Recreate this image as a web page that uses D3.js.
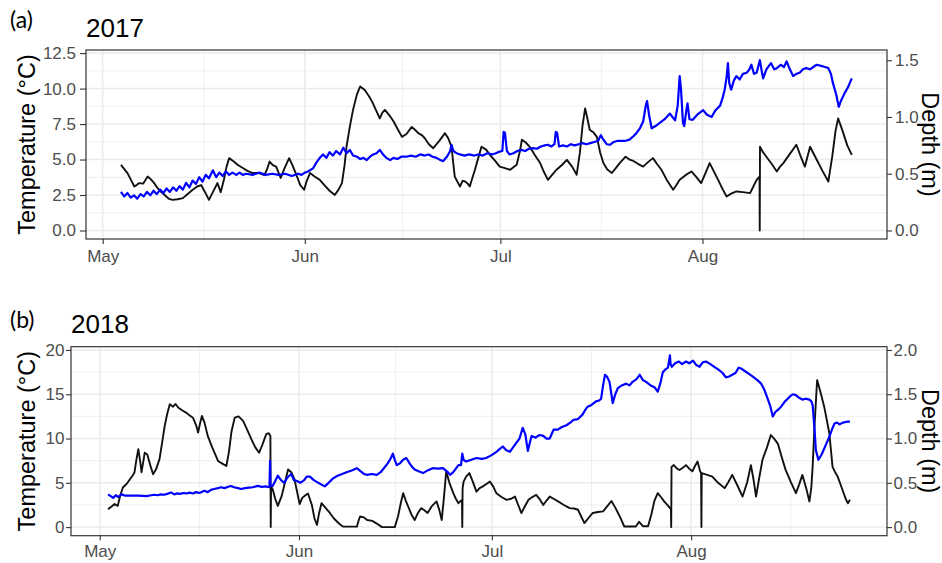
<!DOCTYPE html>
<html><head><meta charset="utf-8">
<script src="https://cdn.jsdelivr.net/npm/d3@7"></script>
<style>
html,body{margin:0;padding:0;background:#fff;}
svg{display:block;}
</style></head><body>
<svg id="chart" width="942" height="563"></svg>
<script>
// Each record is [days since 1 May, value]; temperature in °C, depth in m.
const temp2017 = [[2.8,4.63],[3.2,4.4],[3.8,4.04],[4.3,3.6],[4.85,3.1],[5.2,3.2],[5.6,3.34],[6.2,3.3],[6.9,3.8],[7.4,3.6],[7.9,3.34],[8.4,3.0],[8.9,2.75],[9.5,2.5],[10.1,2.25],[10.7,2.16],[11.5,2.2],[12.3,2.28],[13,2.55],[13.8,2.87],[14.5,3.1],[15.1,3.2],[15.7,2.7],[16.3,2.16],[16.9,2.7],[17.6,3.34],[18.1,2.7],[18.6,3.6],[19.0,4.5],[19.4,5.1],[20,4.9],[20.8,4.6],[21.5,4.4],[22.2,4.2],[23,4.05],[24,4.05],[24.8,3.9],[25.2,4.3],[25.6,4.86],[26.1,4.6],[26.6,4.5],[27.3,3.7],[27.9,4.4],[28.6,5.1],[29.1,4.6],[29.6,4.05],[30.3,3.2],[30.9,2.87],[31.3,3.5],[31.8,4.05],[32.5,3.8],[33.3,3.57],[34,3.2],[34.8,2.8],[35.6,2.5],[36.2,2.9],[36.7,3.34],[37.1,4.6],[37.4,5.9],[37.9,7.3],[38.4,8.5],[39,9.6],[39.5,10.15],[40.2,9.9],[40.8,9.5],[41.3,9.1],[41.9,8.5],[42.5,7.9],[42.9,8.3],[43.3,8.5],[44,8.1],[44.6,7.7],[45.3,7.1],[45.9,6.6],[46.6,6.8],[47.4,7.3],[47.9,7.1],[48.4,6.86],[49,6.7],[49.4,6.5],[50,6.1],[50.7,5.8],[51.6,6.3],[52.5,6.86],[53,6.5],[53.5,5.9],[54,3.8],[54.8,3.1],[55.2,3.5],[55.6,3.45],[56,3.3],[56.3,3.1],[56.7,3.7],[57.1,4.28],[57.6,5.1],[58.1,5.9],[58.8,5.7],[59.4,5.33],[60.2,4.9],[60.9,4.5],[61.7,4.4],[62.5,4.28],[63.5,4.63],[64,5.6],[64.3,6.4],[64.9,6.2],[65.5,5.9],[66.3,5.3],[67.1,4.75],[67.7,4.1],[68.3,3.57],[68.9,3.9],[69.6,4.28],[70.4,4.6],[71.2,4.98],[72,4.5],[72.7,3.93],[73.2,5.5],[73.6,7.4],[74.0,8.6],[74.3,8.0],[74.7,7.1],[75.3,6.9],[75.8,6.6],[76.3,5.5],[76.8,4.75],[77.4,4.3],[78.1,4.05],[78.7,4.4],[79.3,4.75],[80.2,5.2],[80.8,5.0],[81.4,4.9],[82.1,4.7],[82.9,4.5],[83.6,4.8],[84.4,5.1],[85,4.7],[85.7,4.28],[86.6,3.5],[87.5,2.87],[88,3.2],[88.5,3.57],[89.4,3.9],[90.3,4.16],[91,3.8],[91.8,3.34],[92.5,4.1],[93.1,4.75],[93.7,4.2],[94.4,3.57],[95.1,2.9],[95.7,2.4],[96.4,2.6],[97.2,2.75],[98.2,2.7],[99.3,2.63],[99.8,3.1],[100.3,3.57],[100.75,3.8],[100.78,0],[100.82,5.9],[101.3,5.5],[101.8,5.2],[102.6,4.7],[103.4,4.16],[103.9,4.5],[104.4,4.75],[105.4,5.4],[106.4,6.04],[107,5.3],[107.7,4.5],[108.1,5.2],[108.5,5.9],[109.5,5.0],[110.4,4.2],[111.3,3.45],[111.9,5.2],[112.4,7.0],[112.8,7.9],[113.5,7.0],[114.2,6.0],[114.9,5.33]];

const depth2017 = [[2.8,0.34],[3.3,0.30],[3.8,0.33],[4.3,0.29],[4.8,0.31],[5.3,0.28],[5.8,0.32],[6.3,0.30],[6.8,0.34],[7.3,0.31],[7.8,0.35],[8.3,0.32],[8.8,0.36],[9.3,0.33],[9.8,0.37],[10.3,0.34],[10.8,0.38],[11.3,0.35],[11.8,0.39],[12.3,0.36],[12.8,0.42],[13.3,0.38],[13.8,0.44],[14.3,0.41],[14.8,0.47],[15.3,0.43],[15.8,0.49],[16.3,0.46],[16.9,0.53],[17.4,0.47],[17.9,0.51],[18.4,0.48],[18.9,0.52],[19.4,0.49],[19.9,0.51],[20.5,0.49],[21,0.51],[21.5,0.49],[22,0.5],[23,0.49],[24,0.51],[25,0.49],[26,0.5],[27,0.49],[28,0.5],[29,0.48],[30,0.5],[30.5,0.49],[31,0.51],[31.5,0.52],[32.3,0.55],[32.8,0.6],[33.3,0.64],[33.8,0.67],[34.3,0.64],[34.8,0.69],[35.3,0.66],[35.8,0.70],[36.4,0.67],[36.9,0.73],[37.4,0.68],[37.9,0.71],[38.4,0.66],[39,0.65],[39.5,0.63],[40,0.64],[40.5,0.62],[41,0.65],[41.5,0.67],[42,0.68],[42.5,0.71],[43,0.67],[43.5,0.64],[44.1,0.62],[44.6,0.64],[45.2,0.63],[45.8,0.65],[46.6,0.65],[47.3,0.66],[48,0.65],[48.7,0.67],[49.4,0.66],[50,0.67],[50.6,0.65],[51.2,0.64],[51.8,0.62],[52.2,0.61],[52.8,0.65],[53.3,0.7],[53.5,0.755],[53.8,0.7],[54.3,0.68],[54.8,0.67],[55.5,0.66],[56.2,0.67],[57,0.66],[57.6,0.67],[58.3,0.66],[59,0.68],[59.7,0.67],[60.3,0.68],[60.9,0.695],[61.3,0.7],[61.5,0.87],[61.7,0.86],[62.0,0.7],[62.4,0.67],[63,0.68],[63.6,0.7],[64.2,0.71],[64.8,0.7],[65.4,0.72],[66,0.725],[66.6,0.72],[67.2,0.74],[67.8,0.75],[68.3,0.755],[68.8,0.74],[69.3,0.76],[69.5,0.87],[69.7,0.86],[70,0.74],[70.6,0.75],[71.2,0.74],[71.8,0.76],[72.4,0.75],[73,0.76],[73.6,0.77],[74.2,0.76],[74.8,0.77],[75.4,0.78],[76,0.79],[76.4,0.84],[76.8,0.8],[77.3,0.76],[77.8,0.755],[78.4,0.78],[79,0.79],[79.6,0.79],[80.2,0.79],[80.8,0.8],[81.4,0.83],[81.9,0.86],[82.4,0.9],[82.9,0.96],[83.3,1.1],[83.5,1.14],[83.8,1.02],[84.2,0.9],[84.8,0.92],[85.5,0.95],[86.2,0.98],[87,1.03],[87.4,1.0],[87.8,0.97],[88.2,1.1],[88.5,1.36],[88.7,1.25],[89.0,0.95],[89.2,0.92],[89.5,1.05],[89.7,1.12],[90,0.98],[90.5,0.975],[91.2,1.02],[92.1,1.06],[92.7,1.02],[93.4,1.0],[94,1.06],[94.7,1.1],[95.1,1.17],[95.4,1.24],[95.7,1.35],[95.9,1.475],[96.1,1.3],[96.4,1.24],[96.8,1.32],[97.2,1.36],[97.7,1.33],[98.2,1.38],[98.8,1.39],[99.2,1.42],[99.5,1.46],[99.9,1.38],[100.3,1.39],[100.8,1.5],[101.1,1.4],[101.3,1.34],[101.8,1.42],[102.5,1.475],[103,1.42],[103.4,1.43],[104,1.46],[104.5,1.44],[104.9,1.49],[105.4,1.42],[105.9,1.36],[106.4,1.38],[106.9,1.39],[107.4,1.42],[107.9,1.43],[108.5,1.42],[109,1.44],[109.5,1.46],[110.2,1.45],[110.8,1.44],[111.3,1.43],[111.7,1.38],[112,1.3],[112.5,1.2],[112.9,1.09],[113.3,1.15],[113.8,1.21],[114.3,1.26],[114.9,1.34]];

const temp2018 = [[1.3,2.03],[1.8,2.3],[2.3,2.6],[2.8,2.4],[3.2,3.6],[3.6,4.47],[4.2,4.9],[4.7,5.4],[5.1,5.8],[5.4,6.16],[5.7,7.6],[6.0,8.8],[6.3,7.4],[6.5,6.2],[6.8,7.5],[7.0,8.4],[7.4,8.2],[7.9,6.9],[8.3,5.97],[8.8,6.6],[9.3,7.67],[9.7,9.5],[10.1,11.4],[10.5,12.8],[10.9,13.87],[11.4,13.6],[11.8,13.9],[12.2,13.5],[12.8,13.2],[13.5,12.9],[14,12.6],[14.5,12.35],[15,11.5],[15.3,10.67],[15.6,11.7],[15.9,12.55],[16.3,11.8],[16.8,10.3],[17.5,9.0],[18.4,7.47],[19.0,7.2],[19.7,6.9],[20.1,8.5],[20.5,10.8],[21.0,12.36],[21.6,12.5],[22.3,12.0],[23,10.9],[23.6,9.9],[24.2,9.0],[24.8,8.4],[25.3,9.3],[25.9,10.5],[26.3,10.6],[26.55,10.3],[26.6,0],[26.65,4.6],[26.9,4.28],[27.3,3.2],[27.7,2.4],[28.3,3.5],[28.8,5.0],[29.3,6.5],[29.8,6.2],[30.3,5.4],[30.7,4.0],[31.1,2.6],[31.5,3.3],[32.0,3.6],[32.4,3.8],[33,2.5],[33.4,1.0],[33.8,0.26],[34.1,1.5],[34.5,2.7],[35.1,2.2],[35.8,1.6],[36.4,1.0],[36.9,0.63],[37.4,0.3],[37.9,0.05],[39,0.05],[40,0.05],[40.3,0.8],[40.5,1.2],[41.1,1.1],[41.6,0.8],[42.4,0.7],[43.1,0.4],[43.9,0],[45,0],[45.9,0],[46.4,1.2],[46.8,2.6],[47.2,3.83],[47.6,3.0],[48.0,2.3],[48.5,1.4],[49.0,0.8],[49.5,1.6],[50.0,2.14],[50.5,1.9],[51.0,1.6],[51.7,2.4],[52.4,2.9],[52.8,2.0],[53.2,0.8],[53.5,3.0],[53.9,6.27],[54.4,5.0],[55.0,3.83],[55.4,3.2],[55.8,2.7],[56.2,3.0],[56.35,3.0],[56.4,0],[56.45,4.4],[56.6,5.14],[57.0,5.7],[57.5,6.1],[58,5.2],[58.6,4.0],[59.1,4.4],[59.6,4.6],[60.2,4.9],[60.7,5.14],[61.2,4.6],[61.7,3.83],[62.5,3.4],[63.3,3.08],[64,3.2],[64.6,3.45],[65.1,2.5],[65.6,1.58],[66.1,2.3],[66.7,3.08],[67.3,3.4],[67.9,3.64],[68.5,3.1],[69.0,2.5],[69.5,3.0],[70.0,3.45],[70.6,3.2],[71.3,2.9],[72.2,2.5],[73.1,2.14],[73.8,2.1],[74.4,1.96],[74.9,1.2],[75.4,0.45],[76,1.0],[76.7,1.6],[77.5,1.7],[78.3,1.78],[79,2.4],[79.6,2.95],[80.2,2.2],[80.9,1.2],[81.6,0.07],[82.5,0.07],[83.4,0.07],[83.9,0.6],[84.5,0.1],[85.3,0.1],[85.8,1.4],[86.3,3.0],[86.8,3.83],[87.3,3.4],[87.8,2.9],[88.3,2.5],[88.7,2.14],[88.85,2.1],[88.9,0],[88.95,6.8],[89.3,7.0],[89.8,6.6],[90.2,6.45],[90.7,6.7],[91.2,7.0],[91.7,6.6],[92.2,6.3],[92.6,6.9],[93.0,7.4],[93.4,6.3],[93.55,6.1],[93.6,0],[93.65,6.1],[94.5,5.9],[95.3,5.7],[96.2,5.0],[97.2,4.4],[97.8,5.1],[98.4,5.9],[99.2,4.7],[100,3.45],[100.7,5.0],[101.3,7.0],[101.7,5.4],[102.1,3.45],[102.6,5.6],[103.1,7.6],[103.8,9.0],[104.4,10.4],[105,9.9],[105.5,9.4],[106.1,7.9],[106.7,6.46],[107.5,5.1],[108.3,3.83],[108.8,4.8],[109.3,5.9],[109.9,4.4],[110.4,2.9],[110.7,4.5],[110.9,6.8],[111.2,11.5],[111.6,16.6],[112.1,15.3],[112.7,13.6],[113.1,12.1],[113.5,10.6],[114,6.8],[114.4,6.2],[114.8,5.7],[115.4,4.5],[116.1,3.08],[116.4,2.7],[116.7,3.1]];

const depth2018 = [[1.3,0.37],[1.7,0.35],[2.1,0.33],[2.5,0.36],[2.9,0.34],[3.4,0.37],[4,0.355],[5,0.355],[6,0.355],[7.3,0.35],[8,0.36],[8.5,0.365],[9,0.36],[9.5,0.37],[10,0.365],[10.5,0.375],[11.1,0.39],[11.6,0.37],[12,0.38],[12.5,0.375],[13,0.385],[13.5,0.38],[14,0.39],[14.5,0.38],[15,0.395],[15.5,0.385],[16.3,0.41],[16.8,0.395],[17.3,0.42],[17.8,0.43],[18.4,0.44],[18.9,0.45],[19.4,0.44],[20.0,0.455],[20.4,0.465],[20.9,0.45],[21.5,0.44],[22.0,0.43],[22.6,0.44],[23.2,0.445],[23.8,0.45],[24.6,0.465],[25.2,0.455],[25.8,0.46],[26.4,0.45],[26.5,0.75],[26.55,0.47],[26.9,0.465],[27.3,0.52],[27.7,0.58],[28.2,0.53],[28.7,0.5],[29.2,0.56],[29.8,0.6],[30.2,0.53],[30.7,0.52],[31.2,0.5],[31.8,0.53],[32.2,0.57],[32.7,0.57],[33.3,0.53],[34,0.5],[34.5,0.48],[35,0.46],[35.6,0.5],[36.3,0.55],[37,0.58],[37.7,0.6],[38.4,0.62],[39.2,0.64],[40,0.665],[40.6,0.63],[41.1,0.6],[41.6,0.59],[42.3,0.6],[43.1,0.59],[43.7,0.62],[44.2,0.665],[44.8,0.72],[45.3,0.78],[45.6,0.83],[45.9,0.76],[46.2,0.7],[46.7,0.72],[47.2,0.76],[47.7,0.78],[48.2,0.72],[48.6,0.68],[49.0,0.65],[49.6,0.63],[50.3,0.61],[51,0.64],[51.8,0.665],[52.6,0.66],[53.4,0.665],[54,0.63],[54.5,0.59],[55.0,0.62],[55.4,0.66],[55.8,0.7],[56.2,0.7],[56.4,0.83],[56.6,0.76],[57.0,0.74],[57.8,0.76],[58.6,0.78],[59.4,0.77],[60.1,0.78],[60.9,0.81],[61.7,0.85],[62.2,0.88],[62.7,0.91],[63.2,0.87],[63.8,0.85],[64.3,0.9],[64.8,0.95],[65.3,1.0],[65.8,1.12],[66.2,1.05],[66.6,0.86],[67.0,0.98],[67.2,1.03],[67.8,1.01],[68.4,1.04],[69.0,1.03],[69.5,1.0],[70.0,1.0],[70.6,1.1],[71.2,1.1],[71.9,1.13],[72.6,1.15],[73.2,1.18],[73.7,1.21],[74.4,1.22],[75.1,1.27],[75.5,1.32],[75.9,1.36],[76.5,1.38],[77.2,1.42],[77.7,1.43],[78.0,1.45],[78.3,1.6],[78.6,1.72],[78.9,1.7],[79.3,1.64],[79.6,1.5],[79.8,1.40],[80.2,1.5],[80.6,1.57],[81.2,1.6],[81.9,1.62],[82.4,1.6],[82.9,1.64],[83.5,1.67],[84.0,1.72],[84.5,1.66],[85.0,1.64],[85.7,1.6],[86.3,1.58],[86.8,1.53],[87.2,1.62],[87.6,1.75],[88.0,1.78],[88.4,1.8],[88.7,1.94],[88.8,1.84],[89.0,1.81],[89.5,1.85],[90.1,1.87],[90.6,1.84],[91.2,1.87],[91.7,1.85],[92.3,1.88],[92.8,1.83],[93.3,1.81],[93.8,1.86],[94.3,1.87],[95.0,1.84],[95.6,1.81],[96.2,1.78],[96.9,1.74],[97.4,1.69],[97.9,1.70],[98.4,1.72],[98.9,1.74],[99.4,1.8],[99.8,1.79],[100.4,1.76],[101,1.73],[101.6,1.70],[102.3,1.66],[102.9,1.62],[103.4,1.55],[103.9,1.45],[104.3,1.37],[104.7,1.25],[105.1,1.3],[105.6,1.33],[106.0,1.36],[106.6,1.42],[107.3,1.47],[107.8,1.5],[108.3,1.49],[108.8,1.46],[109.3,1.44],[109.8,1.45],[110.4,1.44],[110.7,1.42],[110.9,1.38],[111.2,1.1],[111.4,0.87],[111.8,0.76],[112.3,0.82],[112.9,0.92],[113.5,1.02],[113.9,1.1],[114.3,1.17],[114.7,1.18],[115.1,1.16],[115.6,1.18],[116.2,1.19],[116.7,1.19]];

const monthLabels = ["May", "Jun", "Jul", "Aug"];
const tempTicks2017 = [0, 2.5, 5, 7.5, 10, 12.5];
const depthTicks2017 = [0, 0.5, 1, 1.5];
const tempTicks2018 = [0, 5, 10, 15, 20];
const depthTicks2018 = [0, 0.5, 1, 1.5, 2];

const SANS = "'Liberation Sans', Arial, sans-serif";
const svg = d3.select("#chart");
svg.append("rect").attr("width", 942).attr("height", 563).attr("fill", "#fff");

const panels = [
  { tag: "(a)", title: "2017", year: 2017, temp: temp2017, depth: depth2017,
    tempTicks: tempTicks2017, depthTicks: depthTicks2017, tempFmt: d3.format(".1f"),
    factor: 8, box: { l: 86, t: 50, r: 887, b: 239 },
    dayDomain: [-2.56, 120.3], tempDomain: [-0.6, 12.72],
    yTick: 6, yPad: 4, rPad: 3, xTick: 5, xPad: 6,
    tagY: 28, titleY: 37 },
  { tag: "(b)", title: "2018", year: 2018, temp: temp2018, depth: depth2018,
    tempTicks: tempTicks2018, depthTicks: depthTicks2018, tempFmt: d3.format("d"),
    factor: 10, box: { l: 71, t: 346.7, r: 887, b: 535.7 },
    dayDomain: [-4.47, 122.47], tempDomain: [-0.97, 20.37],
    yTick: 5, yPad: 1.5, rPad: 1.5, xTick: 4.5, xPad: 5,
    tagY: 328, titleY: 333 }
];

function styleAxis(g) {
  g.select(".domain").remove();
  g.selectAll(".tick line").attr("stroke", "#333").attr("stroke-width", 1.1);
  g.selectAll(".tick text").attr("fill", "#4d4d4d")
    .style("font-family", SANS).style("font-size", "17px");
}

panels.forEach(p => {
  const b = p.box;
  const origin = Date.UTC(p.year, 4, 1);
  const toDate = d => new Date(origin + d * 864e5);

  const x = d3.scaleUtc().domain(p.dayDomain.map(toDate)).range([b.l, b.r]);
  const y = d3.scaleLinear().domain(p.tempDomain).range([b.b, b.t]);
  // depth shares the panel with temperature through a fixed ratio (secondary axis)
  const yD = d3.scaleLinear().domain(p.tempDomain.map(v => v / p.factor)).range([b.b, b.t]);

  const monthDates = monthLabels.map((m, i) => new Date(Date.UTC(p.year, 4 + i, 1)));
  const allMonths = d3.range(5).map(i => new Date(Date.UTC(p.year, 4 + i, 1)));
  const minorX = d3.pairs(allMonths).map(([a, c]) => new Date((+a + +c) / 2))
    .filter(d => d >= x.domain()[0] && d <= x.domain()[1]);
  const step = p.tempTicks[1] - p.tempTicks[0];
  const minorY = p.tempTicks.map(v => v + step / 2)
    .filter(v => v >= p.tempDomain[0] && v <= p.tempDomain[1]);

  const g = svg.append("g");

  // grid
  const grid = g.append("g");
  grid.selectAll(".mx").data(minorX).join("line")
    .attr("x1", d => x(d)).attr("x2", d => x(d)).attr("y1", b.t).attr("y2", b.b)
    .attr("stroke", "#ebebeb").attr("stroke-width", 0.8);
  grid.selectAll(".my").data(minorY).join("line")
    .attr("x1", b.l).attr("x2", b.r).attr("y1", d => y(d)).attr("y2", d => y(d))
    .attr("stroke", "#ebebeb").attr("stroke-width", 0.8);
  grid.selectAll(".Mx").data(monthDates).join("line")
    .attr("x1", d => x(d)).attr("x2", d => x(d)).attr("y1", b.t).attr("y2", b.b)
    .attr("stroke", "#ebebeb").attr("stroke-width", 1.5);
  grid.selectAll(".My").data(p.tempTicks).join("line")
    .attr("x1", b.l).attr("x2", b.r).attr("y1", d => y(d)).attr("y2", d => y(d))
    .attr("stroke", "#ebebeb").attr("stroke-width", 1.5);

  // series
  const lineT = d3.line().x(d => x(toDate(d[0]))).y(d => y(d[1]));
  const lineD = d3.line().x(d => x(toDate(d[0]))).y(d => yD(d[1]));
  g.append("path").datum(p.temp).attr("d", lineT)
    .attr("fill", "none").attr("stroke", "#111").attr("stroke-width", 1.9)
    .attr("stroke-linejoin", "round");
  g.append("path").datum(p.depth).attr("d", lineD)
    .attr("fill", "none").attr("stroke", "#0000ff").attr("stroke-width", 2.2)
    .attr("stroke-linejoin", "round");

  // panel border
  g.append("rect").attr("x", b.l).attr("y", b.t)
    .attr("width", b.r - b.l).attr("height", b.b - b.t)
    .attr("fill", "none").attr("stroke", "#333").attr("stroke-width", 1.2);

  // axes
  g.append("g").attr("transform", `translate(${b.l},0)`)
    .call(d3.axisLeft(y).tickValues(p.tempTicks).tickFormat(p.tempFmt)
      .tickSize(p.yTick).tickPadding(p.yPad))
    .call(styleAxis);
  g.append("g").attr("transform", `translate(${b.r},0)`)
    .call(d3.axisRight(yD).tickValues(p.depthTicks).tickFormat(d3.format(".1f"))
      .tickSize(5).tickPadding(p.rPad))
    .call(styleAxis);
  g.append("g").attr("transform", `translate(0,${b.b})`)
    .call(d3.axisBottom(x).tickValues(monthDates).tickFormat((d, i) => monthLabels[i])
      .tickSize(p.xTick).tickPadding(p.xPad))
    .call(styleAxis);

  // axis titles
  const cy = (b.t + b.b) / 2;
  g.append("text").attr("transform", `translate(34.5,${cy}) rotate(-90)`)
    .attr("text-anchor", "middle").attr("fill", "#000")
    .style("font-family", SANS).style("font-size", "23.5px")
    .text("Temperature (°C)");
  g.append("text").attr("transform", `translate(921.5,${cy}) rotate(90)`)
    .attr("text-anchor", "middle").attr("fill", "#000")
    .style("font-family", SANS).style("font-size", "23.5px")
    .text("Depth (m)");

  // panel tag and title
  g.append("text").attr("x", 10).attr("y", p.tagY)
    .style("font-family", "Lato, 'Open Sans', sans-serif").style("font-size", "23px")
    .attr("fill", "#000").text(p.tag);
  g.append("text").attr("x", b.l).attr("y", p.titleY)
    .style("font-family", SANS).style("font-size", "26px")
    .attr("fill", "#000").text(p.title);
});
</script>
</body></html>
